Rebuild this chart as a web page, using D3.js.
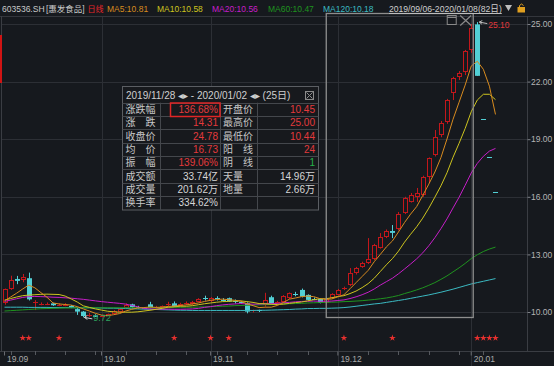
<!DOCTYPE html>
<html><head><meta charset="utf-8">
<script src="https://cdn.jsdelivr.net/npm/d3@7"></script>
<style>html,body{margin:0;padding:0;background:#16191e;overflow:hidden}</style>
</head><body><svg id="c" width="554" height="366"></svg>
<script>
// ---------------- DATA ----------------
const stockCode = "603536.SH", stockName = "[惠发食品]", periodName = "日线";
const rangeText = "2019/09/06-2020/01/08(82日)";
const maNames = ["MA5","MA10","MA20","MA60","MA120"];
const maHeader = [10.81, 10.58, 10.56, 10.47, 10.18];

const dates = ["2019/09/06","2019/09/09","2019/09/10","2019/09/11","2019/09/12","2019/09/16","2019/09/17","2019/09/18","2019/09/19","2019/09/20","2019/09/23","2019/09/24","2019/09/25","2019/09/26","2019/09/27","2019/09/30",
"2019/10/08","2019/10/09","2019/10/10","2019/10/11","2019/10/14","2019/10/15","2019/10/16","2019/10/17","2019/10/18","2019/10/21","2019/10/22","2019/10/23","2019/10/24","2019/10/25","2019/10/28","2019/10/29","2019/10/30","2019/10/31",
"2019/11/01","2019/11/04","2019/11/05","2019/11/06","2019/11/07","2019/11/08","2019/11/11","2019/11/12","2019/11/13","2019/11/14","2019/11/15","2019/11/18","2019/11/19","2019/11/20","2019/11/21","2019/11/22","2019/11/25","2019/11/26","2019/11/27","2019/11/28","2019/11/29",
"2019/12/02","2019/12/03","2019/12/04","2019/12/05","2019/12/06","2019/12/09","2019/12/10","2019/12/11","2019/12/12","2019/12/13","2019/12/16","2019/12/17","2019/12/18","2019/12/19","2019/12/20","2019/12/23","2019/12/24","2019/12/25","2019/12/26","2019/12/27","2019/12/30","2019/12/31",
"2020/01/02","2020/01/03","2020/01/06","2020/01/07","2020/01/08"];

const open = [10.46,11.19,11.72,11.67,11.76,10.45,10.40,10.42,10.45,10.35,
10.36,10.30,10.15,10.02,9.78,9.82,9.76,9.80,9.90,10.00,
10.22,10.40,10.28,10.22,10.40,10.25,10.24,10.38,10.45,10.32,
10.40,10.40,10.54,10.72,10.56,10.72,10.63,10.72,10.57,10.50,
10.46,10.03,10.08,10.36,10.77,10.45,10.53,10.72,10.95,11.15,
10.89,10.70,10.68,10.45,10.72,10.89,11.20,11.41,12.02,12.35,
12.55,12.76,13.33,13.90,14.22,14.32,15.16,15.73,15.99,16.10,
17.03,18.18,19.22,19.90,21.41,22.24,22.50,23.65,24.98,20.07,
18.06,16.25];
const high = [11.22,11.89,11.88,11.98,12.05,10.62,10.50,10.50,10.48,10.45,
10.46,10.36,10.22,10.05,9.95,9.88,9.84,9.92,10.10,10.18,
10.45,10.43,10.32,10.26,10.53,10.32,10.34,10.53,10.55,10.48,
10.55,10.58,10.72,10.85,10.78,10.82,10.72,10.75,10.65,10.56,
10.50,10.12,10.12,11.00,10.85,10.58,10.88,11.02,11.05,11.22,
10.92,10.76,10.72,10.75,10.98,11.20,11.32,12.29,12.35,12.62,
13.85,13.55,14.11,14.30,14.53,15.21,16.00,16.20,16.46,17.10,
18.05,19.48,19.95,21.10,22.25,22.55,23.65,25.00,25.10,20.07,
18.06,16.25];
const low = [10.38,11.15,11.45,11.55,10.60,10.10,10.35,10.36,10.32,10.30,
10.30,10.20,9.85,9.72,9.75,9.74,9.73,9.78,9.86,9.96,
10.18,10.22,10.18,10.15,10.20,10.20,10.20,10.32,10.25,10.28,
10.36,10.36,10.50,10.60,10.52,10.60,10.55,10.52,10.45,10.42,
9.93,9.98,10.00,10.28,10.40,10.40,10.50,10.68,10.82,10.76,
10.60,10.62,10.45,10.44,10.68,10.86,11.14,11.35,11.95,12.30,
12.50,12.70,13.30,13.85,13.85,14.25,15.10,15.70,15.73,16.00,
16.72,18.10,19.10,19.80,21.04,22.08,22.34,23.50,22.30,20.07,
18.06,16.25];
const close = [11.19,11.67,11.62,11.84,10.66,10.50,10.42,10.44,10.35,10.38,
10.38,10.25,10.02,9.79,9.82,9.75,9.80,9.88,10.05,10.14,
10.38,10.25,10.22,10.18,10.25,10.28,10.30,10.43,10.28,10.40,
10.45,10.53,10.67,10.68,10.72,10.66,10.60,10.55,10.52,10.46,
10.02,10.08,10.06,10.62,10.45,10.50,10.83,10.97,10.90,10.80,
10.63,10.68,10.47,10.70,10.94,11.15,11.25,12.03,12.28,12.55,
12.76,13.49,13.91,14.22,14.12,15.10,15.94,16.10,16.20,17.03,
18.02,19.11,19.84,21.04,22.19,22.45,23.59,24.78,22.30,20.07,
18.06,16.25];

const ma5 = [10.58,10.78,10.98,11.20,11.40,11.26,11.01,10.77,10.47,10.42,
10.39,10.36,10.28,10.16,10.05,9.93,9.84,9.81,9.86,9.92,
10.05,10.14,10.21,10.23,10.26,10.24,10.25,10.29,10.31,10.34,
10.37,10.42,10.47,10.55,10.61,10.65,10.67,10.64,10.61,10.56,
10.43,10.33,10.23,10.25,10.25,10.34,10.49,10.67,10.73,10.80,
10.83,10.80,10.70,10.66,10.68,10.79,10.90,11.21,11.53,11.85,
12.17,12.62,13.00,13.39,13.70,14.17,14.66,15.10,15.49,16.07,
16.66,17.29,18.04,19.01,20.04,20.93,21.82,22.81,23.06,22.64,
21.76,20.29];
const ma10 = [10.62,10.70,10.78,10.85,10.88,10.90,10.92,10.93,10.92,10.91,
10.83,10.68,10.52,10.32,10.24,10.16,10.10,10.04,10.01,9.99,
9.99,9.99,10.01,10.05,10.09,10.14,10.19,10.25,10.27,10.30,
10.30,10.33,10.38,10.43,10.47,10.51,10.54,10.55,10.58,10.58,
10.54,10.50,10.44,10.43,10.40,10.39,10.41,10.45,10.49,10.52,
10.58,10.64,10.69,10.69,10.74,10.81,10.85,10.96,11.09,11.27,
11.48,11.76,12.11,12.46,12.78,13.17,13.64,14.05,14.44,14.89,
15.41,15.98,16.57,17.25,18.06,18.79,19.56,20.43,21.04,21.34,
21.34,21.06];
const ma20 = [10.55,10.62,10.69,10.76,10.80,10.81,10.80,10.79,10.77,10.76,
10.74,10.72,10.69,10.66,10.62,10.58,10.54,10.51,10.48,10.45,
10.41,10.34,10.27,10.18,10.16,10.15,10.15,10.15,10.14,10.14,
10.15,10.16,10.19,10.24,10.28,10.33,10.37,10.40,10.42,10.44,
10.42,10.41,10.41,10.43,10.44,10.45,10.48,10.50,10.53,10.55,
10.56,10.57,10.56,10.56,10.57,10.60,10.63,10.70,10.79,10.90,
11.03,11.20,11.40,11.58,11.76,11.99,12.24,12.50,12.77,13.08,
13.45,13.87,14.34,14.85,15.42,15.98,16.60,17.24,17.74,18.11,
18.38,18.52];
const ma60 = [10.05,10.07,10.09,10.11,10.13,10.15,10.17,10.18,10.19,10.20,
10.21,10.21,10.22,10.22,10.22,10.22,10.22,10.22,10.22,10.22,
10.22,10.22,10.22,10.22,10.23,10.23,10.23,10.23,10.24,10.24,
10.25,10.25,10.26,10.27,10.28,10.29,10.30,10.31,10.33,10.34,
10.35,10.36,10.37,10.38,10.39,10.41,10.42,10.43,10.44,10.45,
10.47,10.48,10.49,10.50,10.51,10.52,10.54,10.55,10.57,10.59,
10.62,10.65,10.69,10.73,10.79,10.86,10.96,11.05,11.15,11.26,
11.39,11.53,11.70,11.88,12.09,12.30,12.53,12.78,12.98,13.15,
13.28,13.38];
const ma120 = [10.25,10.25,10.25,10.25,10.24,10.24,10.24,10.24,10.23,10.23,
10.23,10.23,10.22,10.22,10.22,10.21,10.21,10.20,10.20,10.19,
10.18,10.17,10.16,10.15,10.14,10.13,10.12,10.11,10.10,10.09,
10.09,10.08,10.08,10.08,10.08,10.08,10.08,10.08,10.08,10.08,
10.08,10.08,10.09,10.09,10.10,10.11,10.12,10.13,10.15,10.16,
10.18,10.18,10.19,10.19,10.20,10.21,10.23,10.26,10.30,10.34,
10.38,10.42,10.45,10.50,10.55,10.60,10.65,10.71,10.77,10.83,
10.89,10.96,11.03,11.11,11.19,11.28,11.37,11.46,11.53,11.60,
11.67,11.74];

const yTicks = [10, 13, 16, 19, 22, 25];
const signalDays = [3, 4, 9, 28, 34, 37, 56, 64, 78, 79, 80, 81];
const periodStart = "2019/11/28", periodEnd = "2020/01/02";
const lowMark = {date: "2019/09/26", value: 9.72};
const highMark = {date: "2020/01/03", value: 25.10};

const panelTitle = "2019/11/28 ◂▸ - 2020/01/02 ◂▸ (25日)";
const panelLabelsL = ["涨跌幅","涨　跌","收盘价","均　价","振　幅","成交额","成交量","换手率"];
const panelValuesL = ["136.68%","14.31","24.78","16.73","139.06%","33.74亿","201.62万","334.62%"];
const panelToneL = ["up","up","up","up","up","flat","flat","flat"];
const panelLabelsR = ["开盘价","最高价","最低价","阳　线","阴　线","天量","地量",""];
const panelValuesR = ["10.45","25.00","10.44","24","1","14.96万","2.66万",""];
const panelToneR = ["up","up","up","up","down","flat","flat","flat"];

// ---------------- STYLE ----------------
const BG = "#16191e", GRID = "#2c2f35", AXIS = "#3a3d43";
const RED = "#c3171b", CYAN = "#52cfd5";
const maColors = ["#d88b1e", "#cdc41f", "#c61ec8", "#1f931f", "#3bbac2"];
const toneColor = {up: "#e3393c", down: "#26b24a", flat: "#d6d6d6"};
const FONT = "'Liberation Sans', Arial, 'Noto Sans CJK SC', sans-serif";

const svg = d3.select("#c");
svg.append("rect").attr("width", 554).attr("height", 366).attr("fill", BG);

const x = d3.scaleBand().domain(d3.range(dates.length)).range([1.5, 498.5]);
const cx = i => x(i) + x.bandwidth() / 2;
const y = d3.scaleLinear().domain([10, 25]).range([312, 24]);
const parse = d3.timeParse("%Y/%m/%d");
const dObj = dates.map(parse);

// month & week starts
const monthStarts = d3.range(dates.length).filter(i => i === 0 || dObj[i].getMonth() !== dObj[i-1].getMonth());
const weekStarts = d3.range(1, dates.length).filter(i =>
  +d3.timeMonday.floor(dObj[i]) !== +d3.timeMonday.floor(dObj[i-1]) && !monthStarts.includes(i));

// grid
const grid = svg.append("g");
grid.selectAll("line.h").data(yTicks).join("line")
  .attr("x1", 2).attr("x2", 527).attr("y1", d => Math.round(y(d)) + 0.5).attr("y2", d => Math.round(y(d)) + 0.5)
  .attr("stroke", GRID);
grid.selectAll("line.v").data(monthStarts.slice(1)).join("line")
  .attr("x1", i => Math.round(cx(i)) + 0.5).attr("x2", i => Math.round(cx(i)) + 0.5)
  .attr("y1", 16).attr("y2", 366).attr("stroke", GRID);
// frame lines
svg.append("line").attr("x1", 0).attr("x2", 554).attr("y1", 16.5).attr("y2", 16.5).attr("stroke", "#33363c");
svg.append("line").attr("x1", 1.5).attr("x2", 1.5).attr("y1", 16).attr("y2", 351).attr("stroke", AXIS);
svg.append("line").attr("x1", 527.5).attr("x2", 527.5).attr("y1", 16).attr("y2", 351).attr("stroke", AXIS);
svg.append("line").attr("x1", 0).attr("x2", 554).attr("y1", 351.5).attr("y2", 351.5).attr("stroke", AXIS);
svg.append("rect").attr("x", 0).attr("y", 35).attr("width", 2).attr("height", 48).attr("fill", "#d01414");

// right axis
const ya = svg.append("g").attr("transform", "translate(527.5,0)")
  .call(d3.axisRight(y).tickValues(yTicks).tickFormat(d3.format(".2f")).tickSize(3).tickPadding(0.5));
ya.select(".domain").remove();
ya.selectAll("line").attr("stroke", "#7d8087");
ya.selectAll("text").attr("fill", "#b4b4b4").attr("font-size", 8.5).attr("font-family", FONT);

// bottom axis (months)
const fmtM = d3.timeFormat("%y.%m");
const xa = svg.append("g").attr("transform", "translate(0,351.5)")
  .call(d3.axisBottom(x).tickValues(monthStarts).tickFormat(i => fmtM(dObj[i])).tickSize(4).tickPadding(0));
xa.select(".domain").remove();
xa.selectAll("line").attr("stroke", "#6a6d73");
xa.selectAll("text").attr("fill", "#a9a9a9").attr("font-size", 8.5).attr("font-family", FONT)
  .attr("text-anchor", "start").attr("x", 2.5).attr("y", 10).attr("dy", 0);
svg.append("g").selectAll("line").data(weekStarts).join("line")
  .attr("x1", i => Math.round(cx(i)) + 0.5).attr("x2", i => Math.round(cx(i)) + 0.5)
  .attr("y1", 351).attr("y2", 355).attr("stroke", "#55585e");

// candles
const rows = dates.map((d, i) => ({i, o: open[i], h: high[i], l: low[i], c: close[i],
  up: close[i] > open[i] || (close[i] === open[i] && close[i] >= (i ? close[i-1] : open[i]))}));
const gK = svg.append("g");
rows.forEach(r => {
  const xc = Math.round(cx(r.i));
  const col = r.up ? RED : CYAN;
  const yo = y(r.o), yc = y(r.c), top = Math.min(yo, yc), bot = Math.max(yo, yc);
  if (r.h !== r.l) gK.append("line").attr("x1", xc + 0.5).attr("x2", xc + 0.5)
    .attr("y1", y(r.h)).attr("y2", y(r.l)).attr("stroke", col);
  if (bot - top < 1.2) {
    gK.append("rect").attr("x", xc - 2).attr("y", Math.round(top)).attr("width", 5).attr("height", 1).attr("fill", col);
  } else if (r.up) {
    gK.append("rect").attr("x", xc - 1.5).attr("y", Math.round(top) + 0.5).attr("width", 4)
      .attr("height", Math.max(1, Math.round(bot) - Math.round(top) - 1)).attr("fill", BG).attr("stroke", col);
  } else {
    gK.append("rect").attr("x", xc - 2).attr("y", top).attr("width", 5).attr("height", bot - top).attr("fill", col);
  }
});

// MA lines
const maSeries = [ma120, ma60, ma20, ma10, ma5];
const maCol = [maColors[4], maColors[3], maColors[2], maColors[1], maColors[0]];
const line = d3.line().x((d, i) => cx(i)).y(d => y(d));
svg.append("g").selectAll("path").data(maSeries).join("path")
  .attr("d", line).attr("fill", "none").attr("stroke", (d, k) => maCol[k]).attr("stroke-width", 1);

// signal stars
svg.append("g").selectAll("path").data(signalDays).join("path")
  .attr("d", d3.symbol(d3.symbolStar, 14))
  .attr("transform", i => `translate(${cx(i)},338)`).attr("fill", "#e8302e");

// low / high markers
{
  const li = dates.indexOf(lowMark.date), lx = cx(li) + 1, ly = y(lowMark.value);
  svg.append("path").attr("d", `M${lx},${ly} l3,-2 M${lx},${ly} l3,2 M${lx},${ly} L${lx + 8},${ly + 1.5}`)
    .attr("stroke", "#cfcfcf").attr("fill", "none");
  svg.append("text").attr("x", lx + 9).attr("y", ly + 4).text(lowMark.value.toFixed(2))
    .attr("fill", "#2fa35e").attr("font-size", 9).attr("font-family", FONT);
  const hi = dates.indexOf(highMark.date), hx = cx(hi) + 2, hy = y(highMark.value);
  svg.append("path").attr("d", `M${hx},${hy} l3,-1.5 M${hx},${hy} l2.5,2 M${hx},${hy} L${hx + 8},${hy + 1.5}`)
    .attr("stroke", "#bdbdbd").attr("fill", "none");
  svg.append("text").attr("x", hx + 9).attr("y", hy + 6).text(highMark.value.toFixed(2))
    .attr("fill", "#e0383b").attr("font-size", 8.5).attr("font-family", FONT);
}

// selection box
{
  const i0 = dates.indexOf(periodStart), i1 = dates.indexOf(periodEnd);
  const bx0 = cx(i0) + 0.5, bx1 = cx(i1) + 2;
  svg.append("rect").attr("x", bx0).attr("y", 13.5).attr("width", bx1 - bx0).attr("height", 304)
    .attr("fill", "none").attr("stroke", "#8e8e8e").attr("stroke-width", 1.3);
  const ic = svg.append("g").attr("stroke", "#8a8a8a").attr("fill", "none");
  ic.append("rect").attr("x", bx1 - 26).attr("y", 15.5).attr("width", 9).attr("height", 9);
  ic.append("line").attr("x1", bx1 - 26).attr("x2", bx1 - 17).attr("y1", 17.5).attr("y2", 17.5);
  ic.append("path").attr("d", `M${bx1 - 13},15.5 L${bx1 - 2},25.5 M${bx1 - 2},15.5 L${bx1 - 13},25.5`).attr("stroke-width", 1.2);
}

// info panel
{
  const px = 122.5, py = 86.5, pw = 196, ph = 123.5;
  const g = svg.append("g").attr("font-family", FONT).attr("font-size", 10);
  g.append("rect").attr("x", px).attr("y", py).attr("width", pw).attr("height", ph)
    .attr("fill", "#17191d").attr("stroke", "#5b5e63");
  g.append("text").attr("x", 126).attr("y", 98.5).text(panelTitle).attr("fill", "#cfcfcf");
  g.append("rect").attr("x", 305.5).attr("y", 91.5).attr("width", 8).attr("height", 8)
    .attr("fill", "none").attr("stroke", "#8a8a8a");
  g.append("path").attr("d", "M306.5,92.5 L312.5,98.5 M312.5,92.5 L306.5,98.5").attr("stroke", "#8a8a8a");
  const rowH = 13.35, top0 = 102.7;
  const colX = [160, 220, 257];
  d3.range(8).forEach(k => {
    const ry = top0 + k * rowH;
    g.append("line").attr("x1", px).attr("x2", px + pw).attr("y1", Math.round(ry) + 0.5).attr("y2", Math.round(ry) + 0.5).attr("stroke", "#44474c");
    const by = ry + rowH / 2 + 3.6;
    g.append("text").attr("x", 125.5).attr("y", by).text(panelLabelsL[k]).attr("fill", "#c8c8c8");
    g.append("text").attr("x", 218).attr("y", by).attr("text-anchor", "end").text(panelValuesL[k]).attr("fill", toneColor[panelToneL[k]]);
    g.append("text").attr("x", 223).attr("y", by).text(panelLabelsR[k]).attr("fill", "#c8c8c8");
    g.append("text").attr("x", 315).attr("y", by).attr("text-anchor", "end").text(panelValuesR[k]).attr("fill", toneColor[panelToneR[k]]);
  });
  colX.forEach(cxp => g.append("line").attr("x1", cxp + 0.5).attr("x2", cxp + 0.5).attr("y1", top0).attr("y2", py + ph).attr("stroke", "#44474c"));
  g.append("rect").attr("x", 170.5).attr("y", 103).attr("width", 49.5).attr("height", 13.5)
    .attr("fill", "none").attr("stroke", "#e02626").attr("stroke-width", 1.5);
}

// header
{
  const g = svg.append("g").attr("font-family", FONT);
  const items = [
    {t: stockCode, x: 2, fs: 8.5, c: "#c9c9c9"},
    {t: stockName, x: 46, fs: 8.5, c: "#c9c9c9"},
    {t: periodName, x: 87.5, fs: 8, c: "#e8262a"},
    ...maNames.map((n, k) => ({t: `${n}:${maHeader[k].toFixed(2)}`, x: [107, 157, 212, 268, 323][k], fs: 8.5, c: maColors[k]})),
  ];
  items.forEach(it => g.append("text").attr("x", it.x).attr("y", 11.5).text(it.t).attr("fill", it.c)
    .attr("font-size", it.fs));
  const rt = g.append("text").attr("x", 389).attr("y", 11.5).text(rangeText).attr("fill", "#cfcfcf").attr("font-size", 8.6);
  const rw = rt.node().getComputedTextLength();
  g.append("line").attr("x1", 389).attr("x2", 389 + rw).attr("y1", 13.5).attr("y2", 13.5).attr("stroke", "#bdbdbd");
  const tx = Math.max(505, 389 + rw + 2);
  g.append("path").attr("d", `M${tx},5 L${tx + 7},5 L${tx + 3.5},11 Z`).attr("fill", "#bdbdbd");
  g.append("path").attr("d", "M519.5,7.5 L519.5,5.5 Q521.5,2.5 523.5,5.5").attr("fill", "none").attr("stroke", "#e0a020");
  g.append("rect").attr("x", 517.5).attr("y", 7).attr("width", 7.5).attr("height", 5.5).attr("fill", "#e0a020");
}
</script></body></html>
